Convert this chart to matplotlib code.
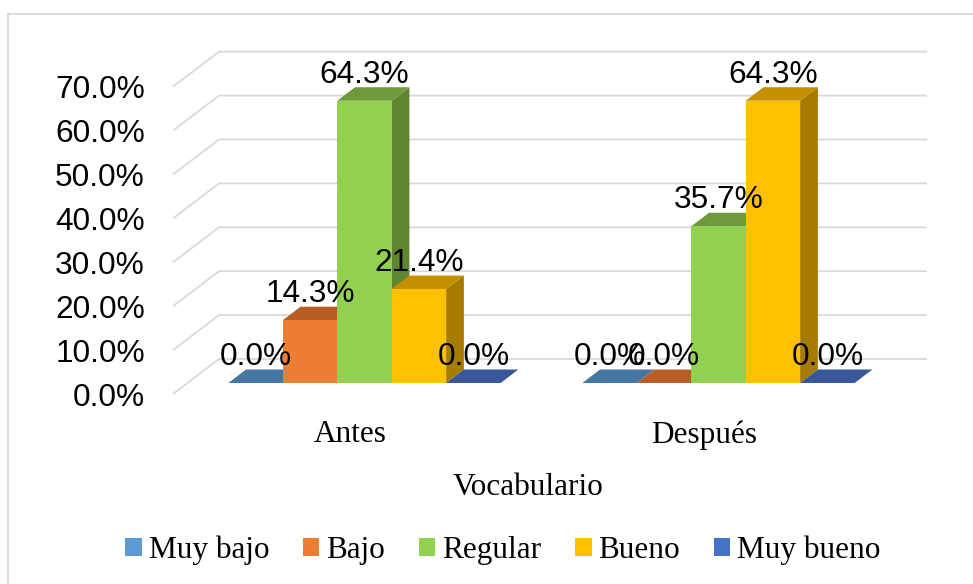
import matplotlib
matplotlib.use('Agg')
import matplotlib.pyplot as plt
from matplotlib.patches import Polygon, Rectangle

# ---------------- data ----------------
categories = ['Antes', 'Después']
series = ['Muy bajo', 'Bajo', 'Regular', 'Bueno', 'Muy bueno']
muy_bajo = [0.0, 0.0]
bajo = [14.3, 0.0]
regular = [64.3, 35.7]
bueno = [21.4, 64.3]
muy_bueno = [0.0, 0.0]
y_ticks = [0, 10, 20, 30, 40, 50, 60, 70]
y_tick_labels = [f'{t:.1f}%' for t in y_ticks]
axis_title = 'Vocabulario'

values = [muy_bajo, bajo, regular, bueno, muy_bueno]

# ---------------- style ----------------
front_colors = ['#5B9BD5', '#ED7D31', '#92D050', '#FFC000', '#4472C4']
top_colors = ['#4677A3', '#B85E24', '#6E9A3C', '#C49000', '#37579A']
side_colors = ['#3F6A93', '#A0521F', '#5F8733', '#A67C00', '#304D88']
grid_color = '#D9D9D9'
sans = 'Liberation Sans'
serif = 'Liberation Serif'
fs = 22.8
fs_serif = 22.5

plt.rcParams['font.family'] = sans

W, H = 973, 584
fig = plt.figure(figsize=(W / 100, H / 100), dpi=100)

# axes placement in pixels (front plane left edge .. back wall right edge)
ax_l, ax_r, ax_t, ax_b = 173, 927, 51.7, 394
ax = fig.add_axes([ax_l / W, 1 - ax_b / H, (ax_r - ax_l) / W, (ax_b - ax_t) / H])

group_step = 6.5
bar_w = 1.0
n = len(series)
depth_px_x, depth_px_y = 46, 35
x_front_min = -group_step / 2
x_front_max = group_step * (len(categories) - 1) + group_step / 2
unit_px = (ax_r - ax_l - depth_px_x) / (x_front_max - x_front_min)
Dx = depth_px_x / unit_px
ymax = y_ticks[-1]
pct_px = (ax_b - ax_t - depth_px_y) / ymax
Dy = depth_px_y / pct_px
ax.set_xlim(x_front_min, x_front_max + Dx)
ax.set_ylim(0, ymax + Dy)
z0, z1 = 0.314, 0.70  # bar depth span (fraction of floor depth)

# gridlines: side wall diagonal + back wall horizontal
for v in y_ticks:
    ax.plot([x_front_min, x_front_min + Dx, x_front_max + Dx],
            [v, v + Dy, v + Dy], color=grid_color, lw=1.3, zorder=0,
            clip_on=False, solid_capstyle='butt')

ddx = (z1 - z0) * Dx
ddy = (z1 - z0) * Dy
zc = 1.0
for i, cat in enumerate(categories):
    for k in range(n):
        v = values[k][i]
        xl = i * group_step + (k - n / 2) * bar_w + z0 * Dx
        yb = z0 * Dy
        yt = yb + v
        if v > 0:
            side = Polygon([(xl + bar_w, yb), (xl + bar_w + ddx, yb + ddy),
                            (xl + bar_w + ddx, yt + ddy), (xl + bar_w, yt)],
                           closed=True, facecolor=side_colors[k], edgecolor='none',
                           zorder=zc)
            ax.add_patch(side)
        zc += 0.01
        top = Polygon([(xl, yt), (xl + bar_w, yt), (xl + bar_w + ddx, yt + ddy),
                       (xl + ddx, yt + ddy)], closed=True,
                      facecolor=top_colors[k], edgecolor='none', zorder=zc)
        ax.add_patch(top)
        zc += 0.01
        ax.bar(xl, v, width=bar_w, bottom=yb, align='edge',
               color=front_colors[k], linewidth=0, zorder=zc)
        zc += 0.01
        ax.text(xl + bar_w / 2, v + z1 * Dy + 4.4 / pct_px, f'{v:.1f}%',
                ha='center', va='baseline', fontsize=fs, family=sans,
                color='black', zorder=50)

# axes ticks
ax.set_yticks(y_ticks, y_tick_labels)
ax.tick_params(axis='y', length=0, pad=20.2, labelsize=fs)
ax.set_xticks([i * group_step for i in range(len(categories))], categories)
ax.tick_params(axis='x', length=0, pad=19, labelsize=fs_serif)
for lbl in ax.get_xticklabels():
    lbl.set_fontfamily(serif)
for s in ax.spines.values():
    s.set_visible(False)
ax.patch.set_alpha(0)

fig.text(528 / W, 1 - 495 / H, axis_title, ha='center', va='baseline',
         fontsize=fs_serif, family=serif)

handles = [Rectangle((0, 0), 1, 1, facecolor=c, edgecolor='none') for c in front_colors]
fig.legend(handles, series, loc='center', bbox_to_anchor=(503 / W, 1 - 550 / H),
           ncol=5, frameon=False, prop={'family': serif, 'size': fs_serif},
           handlelength=0.52, handleheight=0.52, handletextpad=0.22,
           columnspacing=1.09, borderpad=0, borderaxespad=0)

# chart border (cropped on right and bottom)
fig.patches.append(Rectangle((8.3 / W, -0.1), 1.2, 1 - 14 / H + 0.1,
                             transform=fig.transFigure, fill=False,
                             edgecolor=grid_color, lw=1.3))

fig.savefig('out.png', dpi=100)
